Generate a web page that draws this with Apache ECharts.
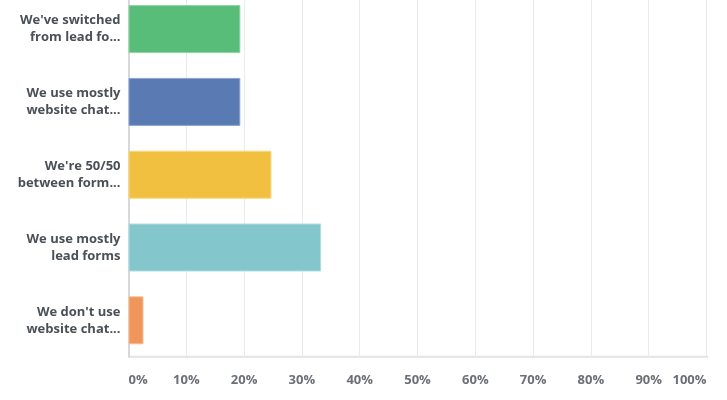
<!DOCTYPE html>
<html><head><meta charset="utf-8">
<script src="https://cdn.jsdelivr.net/npm/echarts@6/dist/echarts.min.js"></script>
<style>html,body{margin:0;padding:0;background:#fff}#c{width:727px;height:400px}</style>
</head><body><div id="c"></div>
<script>
const categories = ["We've switched\nfrom lead fo...", "We use mostly\nwebsite chat...", "We're 50/50\nbetween form...", "We use mostly\nlead forms", "We don't use\nwebsite chat..."];
const values = [19.35, 19.35, 24.73, 33.33, 2.6];
const barColors = ['#57bd78', '#5a7ab4', '#f1c040', '#83c6cc', '#f0955b'];
const barBorders = ['#8fd3a6', '#8ea6d2', '#f7d780', '#b3dde0', '#f7bf94'];
const tickValues = [0, 10, 20, 30, 40, 50, 60, 70, 80, 90, 100];

const chart = echarts.init(document.getElementById('c'));
chart.setOption({
  animation: false,
  grid: { left: 128.5, right: 20.5, top: -7.3, bottom: 43.3, containLabel: false, outerBoundsMode: 'none' },
  xAxis: {
    type: 'value', min: 0, max: 100, interval: 10,
    axisLine: { show: false },
    axisTick: { show: false },
    splitLine: { show: true, lineStyle: { color: '#e9ebec', width: 1 } },
    axisLabel: {
      formatter: v => v + '%', margin: 17,
      color: '#6b7076', fontSize: 13, fontWeight: 'bold', fontFamily: 'Open Sans',
      alignMinLabel: 'left', alignMaxLabel: 'right'
    }
  },
  yAxis: {
    type: 'category', data: categories, inverse: true,
    axisLine: { show: true, lineStyle: { color: '#d6d8da', width: 2 } },
    axisTick: { show: false },
    axisLabel: {
      margin: 8, color: '#4a5057', fontSize: 13, fontWeight: 'bold',
      fontFamily: 'Open Sans', lineHeight: 17, align: 'right'
    }
  },
  series: [{
    type: 'bar', barWidth: 48,
    data: values.map((v, i) => ({ value: v, itemStyle: { color: barColors[i], borderColor: barBorders[i], borderWidth: 1 } }))
  }],
  graphic: [{
    type: 'line', silent: true,
    shape: { x1: 128.5, y1: 356.7, x2: 708, y2: 356.7 },
    style: { stroke: '#e1e3e5', lineWidth: 2 }
  }]
});
</script></body></html>
